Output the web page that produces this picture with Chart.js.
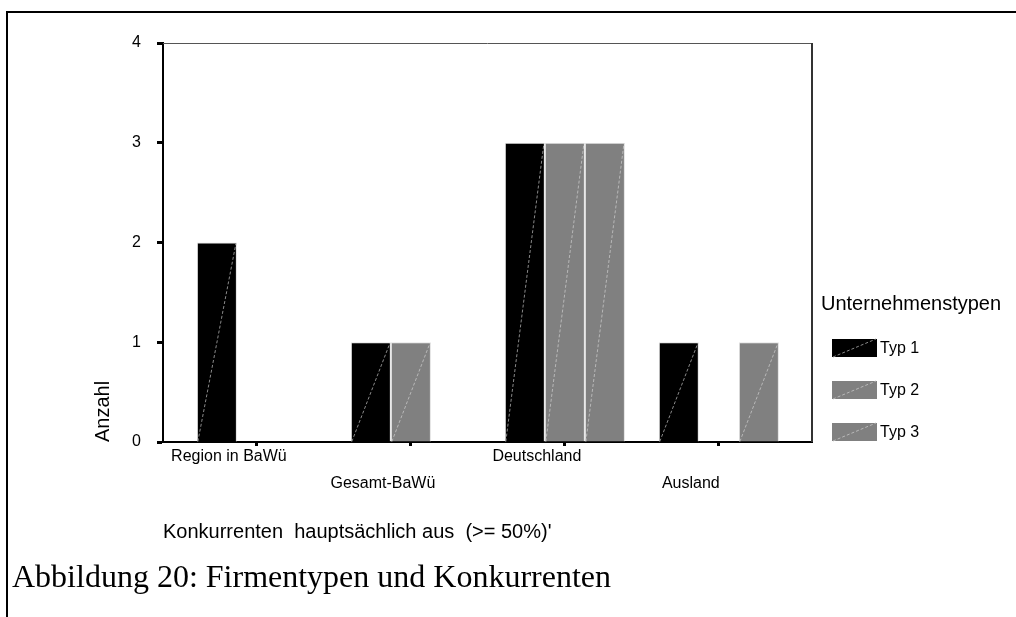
<!DOCTYPE html>
<html>
<head>
<meta charset="utf-8">
<script src="https://cdn.jsdelivr.net/npm/chart.js@4/dist/chart.umd.min.js"></script>
<style>
  html, body { margin: 0; padding: 0; background: #fff; }
  body { width: 1016px; height: 617px; position: relative; overflow: hidden; }
  #frame { position: absolute; left: 6px; top: 11px; right: -4px; bottom: -4px;
           border-top: 2px solid #000; border-left: 2px solid #000; }
  #wrap { position: absolute; left: 0; top: 0; width: 1016px; height: 617px; }
  #caption { position: absolute; left: 12px; top: 556px; font-family: "Liberation Serif", "Times New Roman", serif;
             font-size: 32px; line-height: 40px; color: #000; white-space: nowrap; }
</style>
</head>
<body>
<div id="frame"></div>
<div id="wrap"><canvas id="c"></canvas></div>
<div id="caption">Abbildung 20: Firmentypen und Konkurrenten</div>
<script>
// Werte
const categories = ['Region in BaWü', 'Gesamt-BaWü', 'Deutschland', 'Ausland'];
const seriesNames = ['Typ 1', 'Typ 2', 'Typ 3'];
const typ1 = [2, 1, 3, 1];
const typ2 = [0, 1, 3, 0];
const typ3 = [0, 0, 3, 1];
const yTicks = [0, 1, 2, 3, 4];
const seriesColors = ['#000000', '#808080', '#808080'];

const FONT = '"Liberation Sans", Arial, sans-serif';
const pts = (arr) => arr.map((v, i) => ({ x: i, y: v }));

// Diagonale gestrichelte Linie in jedem Balken (SPSS-Muster)
const diagPlugin = {
  id: 'diag',
  afterDatasetsDraw(chart) {
    const ctx = chart.ctx;
    chart.data.datasets.forEach((ds, di) => {
      const meta = chart.getDatasetMeta(di);
      meta.data.forEach((bar) => {
        const h = bar.base - bar.y;
        if (h < 1) return;
        ctx.save();
        ctx.strokeStyle = di === 0 ? '#8a8a8a' : '#b8b8b8';
        ctx.lineWidth = 1;
        ctx.setLineDash([3, 2]);
        ctx.beginPath();
        ctx.moveTo(bar.x - bar.width / 2 + 1, bar.base);
        ctx.lineTo(bar.x + bar.width / 2 - 1, bar.y + 1);
        ctx.stroke();
        ctx.restore();
      });
    });
  },
  // Rahmen oben/rechts des Diagramms
  afterDraw(chart) {
    const { ctx, chartArea: a } = chart;
    ctx.save();
    ctx.strokeStyle = '#555';
    ctx.lineWidth = 1;
    ctx.beginPath();
    ctx.moveTo(a.left, a.top + 0.5);
    ctx.lineTo(a.right, a.top + 0.5);
    ctx.stroke();
    ctx.strokeStyle = '#333';
    ctx.lineWidth = 2;
    ctx.beginPath();
    ctx.moveTo(a.right, a.top);
    ctx.lineTo(a.right, a.bottom);
    ctx.stroke();
    ctx.restore();
  },
};

// Legende rechts, mit Titel
const legendPlugin = {
  id: 'spssLegend',
  afterDraw(chart) {
    const ctx = chart.ctx;
    ctx.save();
    ctx.fillStyle = '#000';
    ctx.textBaseline = 'middle';
    ctx.textAlign = 'left';
    ctx.font = '20px ' + FONT;
    ctx.fillText('Unternehmenstypen', 821, 304);
    ctx.font = '16px ' + FONT;
    chart.data.datasets.forEach((ds, i) => {
      const y = 348 + i * 42;
      ctx.fillStyle = ds.backgroundColor;
      ctx.fillRect(832, y - 9, 45, 18);
      ctx.strokeStyle = i === 0 ? '#8a8a8a' : '#b8b8b8';
      ctx.setLineDash([3, 2]);
      ctx.lineWidth = 1;
      ctx.beginPath();
      ctx.moveTo(833, y + 9);
      ctx.lineTo(876, y - 9);
      ctx.stroke();
      ctx.setLineDash([]);
      ctx.fillStyle = '#000';
      ctx.fillText(ds.label, 880, y + 1);
    });
    ctx.restore();
  },
};

const mkSet = (i, vals) => ({
  label: seriesNames[i],
  data: pts(vals),
  backgroundColor: seriesColors[i],
  borderColor: '#e2e2e2',
  borderWidth: 1,
  borderSkipped: 'bottom',
  categoryPercentage: 0.78,
  barPercentage: 1.0,
});

new Chart(document.getElementById('c'), {
  type: 'bar',
  data: { datasets: [mkSet(0, typ1), mkSet(1, typ2), mkSet(2, typ3)] },
  plugins: [diagPlugin, legendPlugin],
  options: {
    responsive: true, maintainAspectRatio: false, animation: false,
    layout: { padding: { top: 43, right: 204, bottom: 73, left: 0 } },
    plugins: { legend: { display: false }, tooltip: { enabled: false } },
    scales: {
      x: {
        type: 'linear', min: -0.61, max: 3.605, offset: false,
        afterBuildTicks: (s) => { s.ticks = categories.map((c, i) => ({ value: i })); },
        afterFit: (s) => { s.height = 102; },
        border: { display: true, color: '#000', width: 2 },
        grid: { offset: false, drawOnChartArea: false, drawTicks: true, tickLength: 4, tickWidth: 3, color: '#000' },
        ticks: {
          autoSkip: false, maxRotation: 0, minRotation: 0, padding: -3, labelOffset: -28,
          color: '#000', font: { family: FONT, size: 16, lineHeight: 1.7 },
          callback: (v) => (v % 2 ? ['', categories[v]] : categories[v]),
        },
        title: {
          display: true, align: 'start', text: "Konkurrenten  hauptsächlich aus  (>= 50%)'",
          color: '#000', font: { family: FONT, size: 20 }, padding: 0,
        },
      },
      y: {
        min: 0, max: 4,
        afterBuildTicks: (s) => { s.ticks = yTicks.map((v) => ({ value: v })); },
        afterFit: (s) => { s.width = 163; },
        border: { display: true, color: '#000', width: 2 },
        grid: { drawOnChartArea: false, drawTicks: true, tickLength: 6, tickWidth: 3, color: '#000' },
        ticks: { padding: 16, color: '#000', font: { family: FONT, size: 16 } },
        title: {
          display: true, align: 'start', text: 'Anzahl',
          color: '#000', font: { family: FONT, size: 20 }, padding: { top: 91, bottom: 0 },
        },
      },
    },
  },
});
</script>
</body>
</html>
